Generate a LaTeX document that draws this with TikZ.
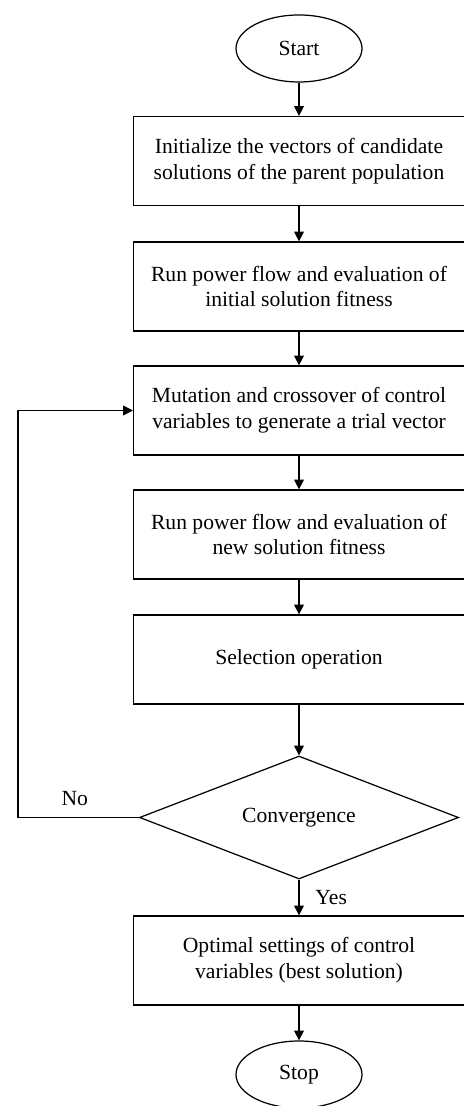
\documentclass[tikz,border=0pt]{standalone}
\usepackage{fontspec}
\setmainfont{Liberation Serif}
\usetikzlibrary{arrows.meta,shapes,positioning}
\tikzset{procbox/.style={draw, line width=0.7pt, minimum width=6.62cm, minimum height=1.78cm, align=center, inner sep=0pt}}
\tikzset{termin/.style={draw, ellipse, line width=0.7pt, minimum width=2.52cm, minimum height=1.34cm, inner sep=0pt}}
\tikzset{decide/.style={draw, diamond, aspect=2.6, line width=0.7pt, minimum width=6.38cm, minimum height=2.46cm, inner sep=0pt}}
\tikzset{flow/.style={line width=0.7pt, -{Triangle[length=5.6pt,width=5.6pt]}}}

\begin{document}
\begin{tikzpicture}[font=\fontsize{12.3}{14.6}\selectfont]
\useasboundingbox (0,0) rectangle (9.26,22.12);

\node[termin] (start) at (5.98,21.15) {Start};
\node[procbox] (init) at (5.98,18.90) {Initialize the vectors of candidate\\solutions of the parent population};
\node[procbox] (pflow) at (5.98,16.39) {Run power flow and evaluation of\\initial solution fitness};
\node[procbox] (mut) at (5.98,13.91) {Mutation and crossover of control\\variables to generate a trial vector};
\node[procbox] (newfit) at (5.98,11.43) {Run power flow and evaluation of\\new solution fitness};
\node[procbox] (sel) at (5.98,8.93) {Selection operation};
\node[decide] (conv) at (5.98,5.77) {Convergence};
\node[procbox] (best) at (5.98,2.91) {Optimal settings of control\\variables (best solution)};
\node[termin] (stop) at (5.98,0.63) {Stop};
\coordinate (back) at (0.36,5.77);

\draw[flow] (start) -- (init);
\draw[flow] (init) -- (pflow);
\draw[flow] (pflow) -- (mut);
\draw[flow] (mut) -- (newfit);
\draw[flow] (newfit) -- (sel);
\draw[flow] (sel) -- (conv);
\draw[flow] (conv) -- node[right=0.2cm] (yes) {Yes} (best);
\draw[flow] (best) -- (stop);
\draw[flow] (conv.west) -- node[above=0.1cm, pos=0.53] (no) {No} (back) |- (mut.west);

\end{tikzpicture}
\end{document}
